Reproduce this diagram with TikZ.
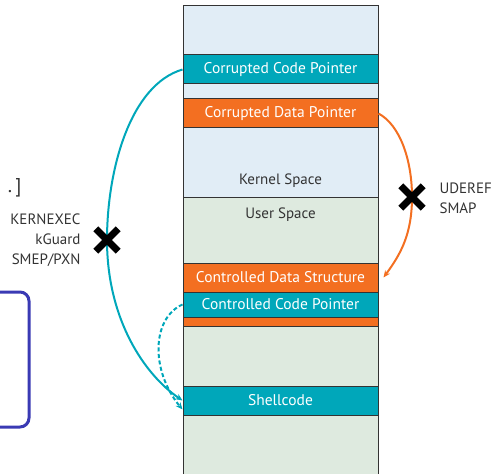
\documentclass[tikz,border=0pt]{standalone}
\usepackage{fontspec}
\setmainfont{PT Sans}
\usetikzlibrary{arrows.meta}
\definecolor{ptrcyan}{HTML}{00A7BA}
\definecolor{ptrorange}{HTML}{F36F21}
\definecolor{kernelbg}{HTML}{E1EDF6}
\definecolor{userbg}{HTML}{DEEADF}
\definecolor{boxblue}{HTML}{3A3AB4}
\definecolor{edge}{HTML}{333333}
\begin{document}
\begin{tikzpicture}[x=1pt,y=-1pt,%
% common options for the memory regions:
region/.style = {draw=edge, line width=1pt, minimum width=195pt, inner sep=0},
% common options for the bands:
band/.style = {draw=edge, line width=1pt, minimum width=195pt, minimum height=29pt,
            inner sep=0, text=white, font=\fontsize{15.5}{18}\selectfont},
% common options for the arcs:
flow/.style = {line width=2pt, -{Stealth[length=7pt,width=6pt]}},
% common options for the crosses:
xmark/.style = {minimum size=22pt, inner sep=0},
lbl/.style = {font=\fontsize{15}{20}\selectfont, text=edge}]
\useasboundingbox (0,0) rectangle (497,473);
\node[region, fill=kernelbg, minimum height=191pt] (kernel) at (280.5,101.5) {};
\node[region, fill=userbg, minimum height=290pt] (user) at (280.5,342) {};
\node[lbl] (ktext) at (280.5,181) {Kernel Space};
\node[lbl] (utext) at (280.5,215) {User Space};
\node[band, fill=ptrcyan] (ccp) at (280.5,69.5) {Corrupted Code Pointer};
\node[band, fill=ptrorange] (cdp) at (280.5,113.5) {Corrupted Data Pointer};
\node[band, fill=ptrorange] (cds) at (280.5,277.5) {Controlled Data Structure};
\node[band, fill=ptrorange, minimum height=9pt] (pad) at (280.5,321.5) {};
\node[band, fill=ptrcyan, minimum height=25pt] (ctp) at (280.5,304.5) {Controlled Code Pointer};
\node[band, fill=ptrcyan] (shell) at (280.5,400.5) {Shellcode};
% protections
\node[xmark] (xleft) at (107,240) {};
\node[xmark] (xright) at (412,197) {};
\node[lbl, align=right, anchor=east] (kprot) at (84,240) {KERNEXEC\\kGuard\\SMEP/PXN};
\node[lbl, align=left, anchor=west] (uprot) at (436,198) {UDEREF\\SMAP};
\node[font=\fontsize{20}{24}\selectfont, text=edge, anchor=east] (dots) at (25,188) {.\,]};
\draw[boxblue, line width=3pt, rounded corners=9pt] (-20,292) rectangle (29,427);
% arcs
\draw[flow, ptrcyan] (ccp.west) .. controls (130,85) and (107,170) .. (xleft.center)
    .. controls (107,320) and (145,375) .. (shell.west);
\draw[flow, ptrcyan, dash pattern=on 4pt off 2.5pt] (ctp.west) .. controls (152,318) and (150,370) .. ([yshift=-9pt]shell.west);
\draw[flow, ptrorange] (cdp.east) .. controls (400,125) and (412,160) .. (xright.center)
    .. controls (412,235) and (400,255) .. ([xshift=5pt]cds.east);
\draw[line width=7pt] (xleft.north west) -- (xleft.south east) (xleft.north east) -- (xleft.south west);
\draw[line width=7pt] (xright.north west) -- (xright.south east) (xright.north east) -- (xright.south west);
\end{tikzpicture}
\end{document}
